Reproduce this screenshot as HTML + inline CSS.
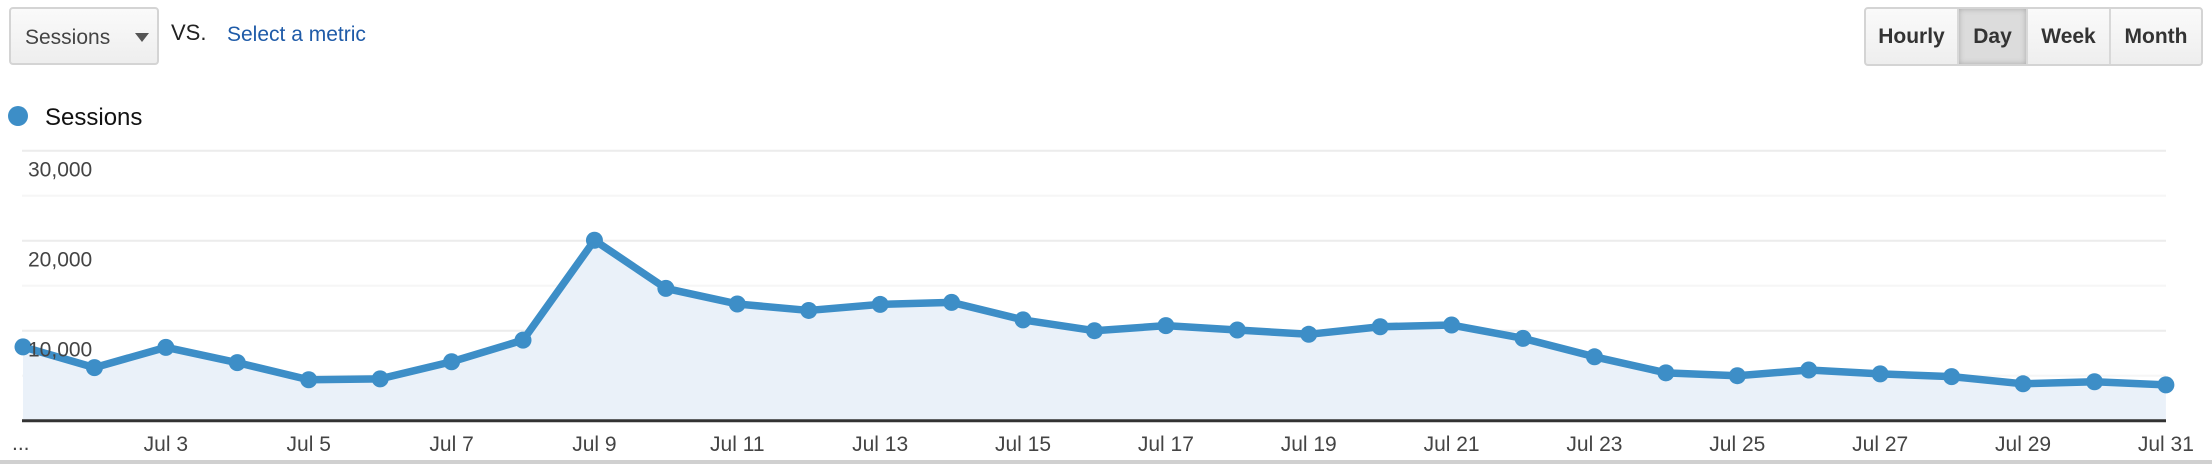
<!DOCTYPE html>
<html><head><meta charset="utf-8"><style>
html,body{margin:0;padding:0;background:#fff;width:2212px;height:464px;overflow:hidden;font-family:"Liberation Sans",sans-serif;}
.dd{position:absolute;left:9px;top:7px;width:150px;height:58px;border:2px solid #d4d4d4;border-radius:4px;background:linear-gradient(#fafafa,#eeeeee);box-sizing:border-box;}
.dd span{position:absolute;left:14px;top:17px;font-size:21px;color:#444;}
.dd i{position:absolute;left:124px;top:24px;width:0;height:0;border-left:7px solid transparent;border-right:7px solid transparent;border-top:9px solid #555;}
.vs{position:absolute;left:171px;top:20px;font-size:22px;color:#222;}
.sel{position:absolute;left:227px;top:23px;font-size:21px;color:#1f5ba8;}
.grp{position:absolute;left:1864px;top:7px;width:339px;height:59px;border:2px solid #d4d4d4;border-radius:4px;box-sizing:border-box;display:flex;overflow:hidden;background:linear-gradient(#fafafa,#eeeeee);}
.grp div{height:100%;display:flex;align-items:center;justify-content:center;font-size:21px;font-weight:bold;color:#333;border-right:2px solid #d8d8d8;box-sizing:border-box;}
.grp div:last-child{border-right:none}
.grp .on{background:#dcdcdc;box-shadow:inset 0 0 6px #aaa;}
</style></head><body>
<div class="dd"><span>Sessions</span><i></i></div>
<div class="vs">VS.</div>
<div class="sel">Select a metric</div>
<div class="grp">
<div style="width:93px">Hourly</div>
<div class="on" style="width:69px">Day</div>
<div style="width:83px">Week</div>
<div style="width:90px">Month</div>
</div>
<svg id="chart" width="2212" height="464" style="position:absolute;left:0;top:0">
<circle cx="18" cy="116" r="10" fill="#3d8ec7"/>
<text x="45" y="125" font-size="24" fill="#111" font-family="Liberation Sans, sans-serif">Sessions</text>
<g id="grid"></g><g id="area"></g><g id="yl"></g><g id="xl"></g>
<rect x="0" y="460" width="2212" height="4" fill="#d0d0d0"/>
</svg>
<script>
const days=[1,2,3,4,5,6,7,8,9,10,11,12,13,14,15,16,17,18,19,20,21,22,23,24,25,26,27,28,29,30,31];
const sessions=[8200,5900,8150,6450,4550,4650,6550,8950,20050,14700,12970,12250,12920,13150,11200,10000,10560,10080,9600,10440,10630,9150,7100,5320,5000,5630,5200,4900,4100,4330,3980];
const yTicks=[0,10000,20000,30000];
const yTickLabels=["","10,000","20,000","30,000"];
const xTickDays=[3,5,7,9,11,13,15,17,19,21,23,25,27,29,31];
const NS='http://www.w3.org/2000/svg';
const x0=23,dx=71.43,yb=420.7,ppu=90/10000,L=22,R=2166;
const X=d=>x0+(d-1)*dx, Y=v=>yb-v*ppu;
function mk(t,a,p){const e=document.createElementNS(NS,t);for(const k in a)e.setAttribute(k,a[k]);p.appendChild(e);return e;}
const grid=document.getElementById('grid');
for(let v=5000;v<=30000;v+=5000){
 const g=mk('line',{x1:L,x2:R,y1:Y(v),y2:Y(v),stroke:v%10000?'#f6f6f6':'#ececec','stroke-width':2},grid);
 
 
}
const area=document.getElementById('area');
let pts=days.map((d,i)=>X(d)+','+Y(sessions[i])).join(' ');
const a=mk('polygon',{points:X(days[0])+','+yb+' '+pts+' '+X(days[days.length-1])+','+yb,fill:'#eaf1f9'},area);


const ax=mk('line',{x1:L,x2:R,y1:yb,y2:yb,stroke:'#333','stroke-width':3},area);


const ln=mk('polyline',{points:pts,fill:'none',stroke:'#3d8ec7','stroke-width':7.5,'stroke-linejoin':'round'},area);


days.forEach((d,i)=>{
 const c=mk('circle',{cx:X(d),cy:Y(sessions[i]),r:8.5,fill:'#3d8ec7'},area);
 
 
});
const yl=document.getElementById('yl');
yTicks.forEach((v,i)=>{if(!yTickLabels[i])return;
 const t=mk('text',{x:28,y:Y(v)+26,'font-size':21,fill:'#444','font-family':'Liberation Sans, sans-serif'},yl);
 t.textContent=yTickLabels[i];
 
 
});
const xl=document.getElementById('xl');
xTickDays.forEach(d=>{
 const t=mk('text',{x:X(d),y:451,'font-size':21,fill:'#444','text-anchor':'middle','font-family':'Liberation Sans, sans-serif'},xl);
 t.textContent='Jul '+d;
 
 
});
const el=mk('text',{x:12,y:450,'font-size':21,fill:'#444','font-family':'Liberation Sans, sans-serif'},xl);
el.textContent='...';


</script>
</body></html>
